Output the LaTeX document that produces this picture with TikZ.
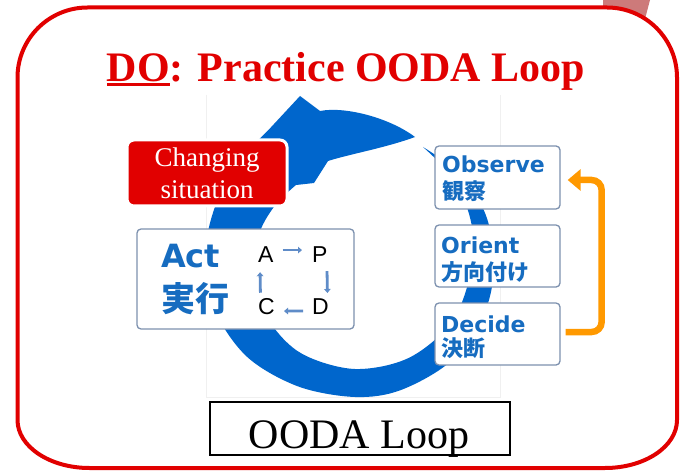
\documentclass[tikz,border=0pt]{standalone}
\usepackage{fontspec}
\setmainfont{Liberation Serif}
\newfontfamily\dvs{DejaVu Sans}
\newfontfamily\jp{Noto Sans CJK JP}
\newfontfamily\lsans{Liberation Sans}
\usetikzlibrary{arrows.meta}
\definecolor{redframe}{RGB}{225,0,0}
\definecolor{swooshblue}{RGB}{0,102,204}
\definecolor{boxtext}{RGB}{22,108,192}
\definecolor{boxborder}{RGB}{125,145,175}
\definecolor{cycblue}{RGB}{95,140,200}
\definecolor{orangeline}{RGB}{255,153,0}
\definecolor{pinkshape}{RGB}{205,122,122}
\newcommand{\myul}[1]{\setbox0\hbox{#1}\rlap{\rule[-4.5pt]{\wd0}{3pt}}\box0}
\tikzset{
  oodabox/.style={draw=boxborder, line width=1.3pt, fill=white, rounded corners=4pt,
    minimum width=125pt, minimum height=62pt, inner sep=0pt},
  latin/.style={anchor=base west, inner sep=0pt, text=boxtext,
    font=\dvs\bfseries\fontsize{22}{22}\selectfont},
  kanji/.style={anchor=base west, inner sep=0pt, text=boxtext,
    font=\jp\bfseries\fontsize{22}{22}\selectfont},
  letter/.style={anchor=base west, inner sep=0pt, text=black,
    font=\lsans\fontsize{23}{23}\selectfont},
  cyc/.style={draw=cycblue, line width=2.8pt, -{Triangle[length=4pt,width=6.5pt]}},
  orangearrow/.style={draw=orangeline, line width=6.5pt, rounded corners=10pt,
    -{Triangle[length=13pt,width=21pt]}},
  whitetext/.style={anchor=base, inner sep=0pt, text=white,
    font=\fontsize{27}{27}\selectfont}
}
\begin{document}
\begin{tikzpicture}[x=1pt,y=-1pt]
\useasboundingbox (0,0) rectangle (685,473);
% pink remnant at the top right
\fill[pinkshape] (603,0) -- (650,0) -- (645,19) -- (603,19) -- cycle;
% red frame
\draw[redframe, line width=4pt, fill=white]
  (17.5,77.5) .. controls (17.5,38.9) and (48.9,7.5) .. (87.5,7.5)
  -- (607,7.5) .. controls (645.6,7.5) and (677,38.9) .. (677,77.5)
  -- (677,420) .. controls (677,446.5) and (644.8,468) .. (605,468)
  -- (89.5,468) .. controls (49.7,468) and (17.5,446.5) .. (17.5,420)
  -- cycle;
% faint picture border
\draw[black!6, line width=0.6pt] (206,95) -- (206,397) -- (500,397) -- (500,95);
% title
\node[anchor=base, inner sep=0pt, text=redframe,
  font=\fontsize{42}{42}\selectfont\bfseries] (title) at (346,82)
  {\myul{DO}: Practice OODA Loop};
% blue swoosh
\fill[swooshblue]
  plot[smooth, tension=0.55] coordinates {(423,147) (460,174) (485.6,214.5) (494,262)
    (485.6,309.5) (452.6,359.6) (401.5,389.8) (355,397) (297,386) (244.7,354.6)
    (211,300.6) (207.3,235.9) (229.7,174.2) (268.9,129.5)}
  -- (300,96) -- (320,111)
  .. controls (345,106) and (390,118) .. (415,137)
  .. controls (385,148) and (350,154) .. (328,161)
  -- (314,183)
  -- plot[smooth, tension=0.55] coordinates {(296,185) (274.7,205.8) (258.4,236.1)
    (254.6,279.7) (269.8,321.7) (302,353.8) (355,369) (410,357.3) (453.7,319)
    (473,262) (470.6,219.9) (453.8,179) (423,147)}
  -- cycle;
% changing situation
\node[draw=white, line width=3pt, fill=redframe, rounded corners=7pt,
  minimum width=160pt, minimum height=66pt] (chg) at (207,173) {};
\node[whitetext] (chg1) at (207,167) {Changing};
\node[whitetext] (chg2) at (207,199) {situation};
% Act box
\node[oodabox, minimum width=217pt, minimum height=100pt] (act) at (245.5,279) {};
\node[anchor=base west, inner sep=0pt, text=boxtext,
  font=\dvs\bfseries\fontsize{32}{32}\selectfont] (actl) at (161,267) {Act};
\node[anchor=base west, inner sep=0pt, text=boxtext,
  font=\jp\bfseries\fontsize{34}{34}\selectfont] (actk) at (161,311) {実行};
\node[letter] (pa) at (258,262) {A};
\node[letter] (pp) at (312,262) {P};
\node[letter] (pc) at (258,314) {C};
\node[letter] (pd) at (312,314) {D};
\draw[cyc, shorten <=9pt, shorten >=10pt] ([yshift=4pt]pa.east) -- ([yshift=4pt]pp.west);
\draw[cyc, shorten <=9pt, shorten >=5pt] ([xshift=7pt]pp.south) -- ([xshift=7pt]pd.north);
\draw[cyc, shorten <=9pt, shorten >=9pt] ([yshift=-5pt]pd.west) -- ([yshift=-5pt]pc.east);
\draw[cyc, shorten <=5pt, shorten >=10pt] ([xshift=-6pt]pc.north) -- ([xshift=-6pt]pa.south);
% OODA boxes
\node[oodabox, minimum height=63pt] (obs) at (497.5,177.5) {};
\node[oodabox] (ori) at (497.5,256) {};
\node[oodabox] (dec) at (497.5,334) {};
\node[latin] (obsl) at (442,173) {Observe};
\node[kanji] (obsk) at (442,200) {観察};
\node[latin] (oril) at (441,253) {Orient};
\node[kanji] (orik) at (441,280) {方向付け};
\node[latin] (decl) at (441,332) {Decide};
\node[kanji] (deck) at (441,356) {決断};
% orange feedback arrow
\draw[orangearrow] ([xshift=5pt,yshift=2pt]dec.east) -- ++(36,0) |- ([xshift=7pt,yshift=-2.5pt]obs.east);
% OODA Loop caption
\node[draw=black, line width=2.5pt, minimum width=300pt, minimum height=53pt] (cap) at (360,428.5) {};
\node[anchor=base, inner sep=0pt, font=\fontsize{42}{42}\selectfont] (capt) at (359,448) {OODA Loop};
\end{tikzpicture}
\end{document}
